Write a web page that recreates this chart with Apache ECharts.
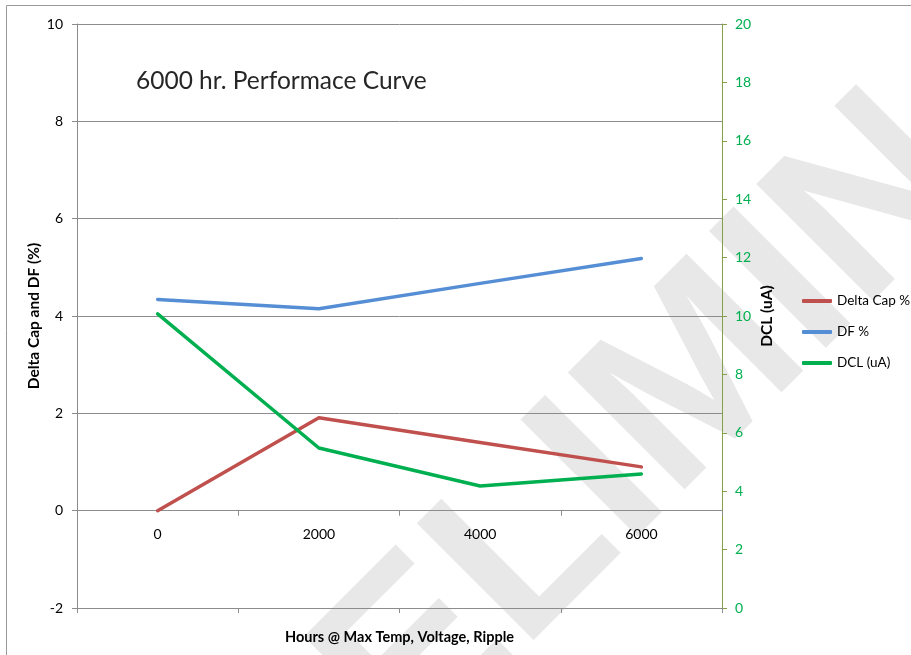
<!DOCTYPE html>
<html>
<head>
<meta charset="utf-8">
<script src="https://cdn.jsdelivr.net/npm/echarts@6/dist/echarts.min.js"></script>
<style>
  html, body { margin: 0; padding: 0; background: #ffffff; }
  #chart { width: 911px; height: 655px; }
</style>
</head>
<body>
<div id="chart"></div>
<script>
// Test hours at max temperature, voltage and ripple
const hours = ['0', '2000', '4000', '6000'];

// Capacitance change (%) and dissipation factor (%) – left axis
const deltaCap = [0.0, 1.91, 1.40, 0.90];
const dfPct = [4.34, 4.15, 4.67, 5.18];

// DC leakage current (uA) – right axis
const dcl = [10.07, 5.48, 4.18, 4.59];

// Axis ranges
const leftMin = -2, leftMax = 10, leftStep = 2;
const rightMin = 0, rightMax = 20, rightStep = 2;

const FONT = 'Lato, "Open Sans", sans-serif';
const GRID_GRAY = '#8c8c8c';
const RIGHT_AXIS = '#86a04a';
const LABEL_GREEN = '#00b050';

const W = 911, H = 655;
const plotRect = { left: 77, right: 189, top: 24, bottom: 47, containLabel: false };
const plotH = H - plotRect.top - plotRect.bottom;
// The category labels sit on the zero line of the left axis
const zeroLift = plotH * (0 - leftMin) / (leftMax - leftMin);

const chart = echarts.init(document.getElementById('chart'), null, { renderer: 'canvas' });

chart.setOption({
  animation: false,
  backgroundColor: '#ffffff',
  textStyle: { fontFamily: FONT },
  graphic: [
    {
      type: 'rect', z: -20, silent: true,
      shape: { x: 6.5, y: 5.5, width: 2000, height: 2000 },
      style: { fill: null, stroke: '#9a9a9a', lineWidth: 1 }
    },
    {
      type: 'text', z: -10, silent: true,
      x: 708, y: 372, rotation: Math.PI / 4,
      style: {
        text: 'PRELIMINARY',
        font: 'bold 240px "Liberation Sans", Arial, sans-serif',
        fill: '#e8e8e8',
        align: 'center', verticalAlign: 'middle'
      }
    },
    {
      type: 'text', z: 5,
      left: 136, top: 69,
      style: {
        text: '6000 hr. Performace Curve',
        font: '24.5px ' + FONT,
        fill: '#262626'
      }
    }
  ],
  legend: {
    orient: 'vertical',
    left: 802, top: 294, padding: 0,
    itemWidth: 30, itemHeight: 4, itemGap: 17,
    icon: 'roundRect',
    textStyle: { fontFamily: FONT, fontSize: 13.5, color: '#000' },
    data: ['Delta Cap %', 'DF %', 'DCL (uA)']
  },
  // Two grids share one rectangle: the first holds the data axes,
  // the second only draws the lower frame line with its ticks and title.
  grid: [plotRect, Object.assign({}, plotRect)],
  xAxis: [
    {
      type: 'category', gridIndex: 0, data: hours, position: 'bottom', boundaryGap: true,
      offset: -zeroLift,
      axisLine: { onZero: false, lineStyle: { color: GRID_GRAY, width: 1 } },
      axisTick: { show: true, length: 5, lineStyle: { color: GRID_GRAY } },
      axisLabel: { margin: 17, fontFamily: FONT, fontSize: 14, color: '#000' },
      splitLine: { show: false }
    },
    {
      type: 'category', gridIndex: 1, data: hours, position: 'bottom', boundaryGap: true,
      axisLine: { onZero: false, lineStyle: { color: GRID_GRAY, width: 1 } },
      axisTick: { show: true, length: 5, lineStyle: { color: GRID_GRAY } },
      axisLabel: { show: false },
      splitLine: { show: false },
      name: 'Hours @ Max Temp, Voltage, Ripple',
      nameLocation: 'middle', nameGap: 22,
      nameTextStyle: { fontFamily: FONT, fontWeight: 'bold', fontSize: 14.5, color: '#000' }
    }
  ],
  yAxis: [
    {
      type: 'value', gridIndex: 0, position: 'left', min: leftMin, max: leftMax, interval: leftStep,
      axisLine: { show: true, onZero: false, lineStyle: { color: GRID_GRAY, width: 1 } },
      axisTick: { show: true, length: 5, lineStyle: { color: GRID_GRAY } },
      axisLabel: { margin: 14, fontFamily: FONT, fontSize: 14, color: '#000' },
      splitLine: { show: true, lineStyle: { color: GRID_GRAY, width: 1 } },
      name: 'Delta Cap and DF (%)',
      nameLocation: 'middle', nameGap: 35, nameRotate: 90, nameMoveOverlap: false,
      nameTextStyle: { fontFamily: FONT, fontWeight: 'bold', fontSize: 15.5, color: '#000' }
    },
    {
      type: 'value', gridIndex: 0, position: 'right', min: rightMin, max: rightMax, interval: rightStep,
      axisLine: { show: true, onZero: false, lineStyle: { color: RIGHT_AXIS, width: 1 } },
      axisTick: { show: true, length: 5, lineStyle: { color: RIGHT_AXIS } },
      axisLabel: { margin: 13, fontFamily: FONT, fontSize: 14, color: LABEL_GREEN },
      splitLine: { show: false },
      name: 'DCL (uA)',
      nameLocation: 'middle', nameGap: 37, nameRotate: 90, nameMoveOverlap: false,
      nameTextStyle: { fontFamily: FONT, fontWeight: 'bold', fontSize: 15.5, color: '#000' }
    },
    {
      type: 'value', gridIndex: 1, min: leftMin, max: leftMax, show: false
    }
  ],
  series: [
    {
      name: 'Delta Cap %', type: 'line', xAxisIndex: 0, yAxisIndex: 0,
      data: deltaCap, showSymbol: false, symbol: 'none',
      lineStyle: { color: '#c0504d', width: 3.5, cap: 'round', join: 'round' },
      itemStyle: { color: '#c0504d' }
    },
    {
      name: 'DF %', type: 'line', xAxisIndex: 0, yAxisIndex: 0,
      data: dfPct, showSymbol: false, symbol: 'none',
      lineStyle: { color: '#558ed5', width: 3.5, cap: 'round', join: 'round' },
      itemStyle: { color: '#558ed5' }
    },
    {
      name: 'DCL (uA)', type: 'line', xAxisIndex: 0, yAxisIndex: 1,
      data: dcl, showSymbol: false, symbol: 'none',
      lineStyle: { color: '#00b050', width: 3.5, cap: 'round', join: 'round' },
      itemStyle: { color: '#00b050' }
    }
  ]
});
</script>
</body>
</html>
